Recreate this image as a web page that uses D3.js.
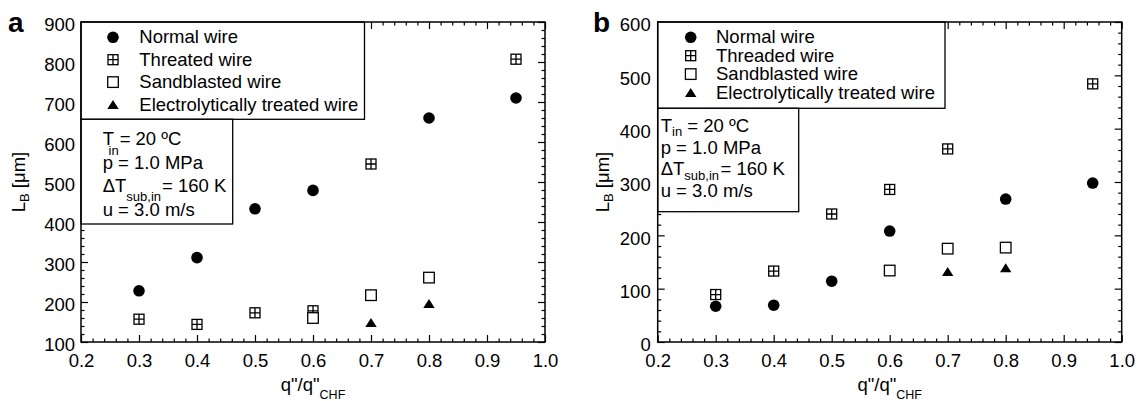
<!DOCTYPE html>
<html><head><meta charset="utf-8">
<script src="https://cdn.jsdelivr.net/npm/d3@7"></script>
<style>
body{margin:0;background:#fff}
svg{display:block}
text{font-family:"Liberation Sans",Arial,Helvetica,sans-serif;fill:#000}
</style>
</head><body>
<svg id="c" width="1144" height="401"></svg>
<script>
// ---------- data ----------
const xTickValues = [0.2, 0.3, 0.4, 0.5, 0.6, 0.7, 0.8, 0.9, 1.0];
const yTickValuesA = [100, 200, 300, 400, 500, 600, 700, 800, 900];
const yTickValuesB = [0, 100, 200, 300, 400, 500, 600];
const legendLabelsA = ["Normal wire", "Threated wire", "Sandblasted wire", "Electrolytically treated wire"];
const legendLabelsB = ["Normal wire", "Threaded wire", "Sandblasted wire", "Electrolytically treated wire"];

// panel a
const normalAx = [0.3, 0.4, 0.5, 0.6, 0.8, 0.95];
const normalAy = [228, 311, 433, 479, 660, 710];
const threadedAx = [0.3, 0.4, 0.5, 0.6, 0.7, 0.95];
const threadedAy = [157, 144, 173, 178, 545, 807];
const sandAx = [0.6, 0.7, 0.8];
const sandAy = [160, 217, 261];
const electroAx = [0.7, 0.8];
const electroAy = [149, 196];

// panel b
const normalBx = [0.3, 0.4, 0.5, 0.6, 0.8, 0.95];
const normalBy = [67, 69, 114, 208, 268, 298];
const threadedBx = [0.3, 0.4, 0.5, 0.6, 0.7, 0.95];
const threadedBy = [89, 133, 240, 286, 362, 484];
const sandBx = [0.6, 0.7, 0.8];
const sandBy = [134, 175, 177];
const electroBx = [0.7, 0.8];
const electroBy = [132, 139];

const markerTypes = ["circle", "threaded", "square", "triangle"];

// ---------- drawing ----------
const svg = d3.select("#c");
const FS = 18.5;

function marker(g, type, cx, cy) {
  if (type === "circle") {
    g.append("circle").attr("cx", cx).attr("cy", cy).attr("r", 5.8).attr("fill", "#000");
  } else if (type === "threaded") {
    const s = 5;
    g.append("rect").attr("x", cx - s).attr("y", cy - s).attr("width", 2 * s).attr("height", 2 * s)
      .attr("fill", "#fff").attr("stroke", "#000").attr("stroke-width", 1.3);
    g.append("path").attr("d", `M${cx - s},${cy}H${cx + s}M${cx},${cy - s}V${cy + s}`)
      .attr("stroke", "#000").attr("stroke-width", 1.3);
  } else if (type === "square") {
    const s = 5.3;
    g.append("rect").attr("x", cx - s).attr("y", cy - s).attr("width", 2 * s).attr("height", 2 * s)
      .attr("fill", "#fff").attr("stroke", "#000").attr("stroke-width", 1.3);
  } else {
    const w = 5.7, h = 4.5;
    g.append("path").attr("d", `M${cx - w},${cy + h}L${cx + w},${cy + h}L${cx},${cy - h}Z`).attr("fill", "#000");
  }
}

function minors(lo, hi, step, majors) {
  const out = [];
  const n = Math.round((hi - lo) / step);
  for (let i = 0; i <= n; i++) {
    const v = +(lo + i * step).toFixed(4);
    if (!majors.some(m => Math.abs(m - v) < 1e-6)) out.push(v);
  }
  return out;
}

function panel(cfg) {
  const g = svg.append("g");
  const x = d3.scaleLinear().domain([0.2, 1.0]).range([cfg.left, cfg.right]);
  const y = d3.scaleLinear().domain(cfg.yDomain).range([cfg.bottom, cfg.top]);
  const xMin = minors(0.2, 1.0, 0.02, xTickValues);
  const yMin = minors(cfg.yDomain[0], cfg.yDomain[1], 20, cfg.yTicks);
  const MJ = 7, MN = 3.5;

  function styleAxis(sel) {
    sel.select(".domain").remove();
    sel.attr("font-size", null).attr("font-family", null);
    sel.selectAll("line").attr("stroke", "#000").attr("stroke-width", 1.2);
    sel.selectAll("text").style("font-size", FS + "px");
  }
  // bottom
  g.append("g").attr("transform", `translate(0,${cfg.bottom})`)
    .call(d3.axisBottom(x).tickValues(xTickValues).tickSize(-MJ).tickPadding(12).tickFormat(d3.format(".1f")))
    .call(styleAxis);
  g.append("g").attr("transform", `translate(0,${cfg.bottom})`)
    .call(d3.axisBottom(x).tickValues(xMin).tickSize(-MN).tickFormat("")).call(styleAxis);
  // top
  g.append("g").attr("transform", `translate(0,${cfg.top})`)
    .call(d3.axisTop(x).tickValues(xTickValues).tickSize(-MJ).tickFormat("")).call(styleAxis);
  g.append("g").attr("transform", `translate(0,${cfg.top})`)
    .call(d3.axisTop(x).tickValues(xMin).tickSize(-MN).tickFormat("")).call(styleAxis);
  // left
  const la = g.append("g").attr("transform", `translate(${cfg.left},0)`)
    .call(d3.axisLeft(y).tickValues(cfg.yTicks).tickSize(-MJ).tickPadding(cfg.yPad).tickFormat(d3.format("d")))
    .call(styleAxis);
  la.selectAll("text").attr("dy", cfg.yDy);
  g.append("g").attr("transform", `translate(${cfg.left},0)`)
    .call(d3.axisLeft(y).tickValues(yMin).tickSize(-MN).tickFormat("")).call(styleAxis);
  // right
  g.append("g").attr("transform", `translate(${cfg.right},0)`)
    .call(d3.axisRight(y).tickValues(cfg.yTicks).tickSize(-MJ).tickFormat("")).call(styleAxis);
  g.append("g").attr("transform", `translate(${cfg.right},0)`)
    .call(d3.axisRight(y).tickValues(yMin).tickSize(-MN).tickFormat("")).call(styleAxis);

  // points
  const pts = g.append("g");
  cfg.series.forEach((s, i) => {
    s.xs.forEach((xv, j) => marker(pts, markerTypes[i], x(xv), y(s.ys[j])));
  });

  // legend box
  const L = cfg.legend;
  g.append("rect").attr("x", cfg.left).attr("y", cfg.top).attr("width", L.right - cfg.left).attr("height", L.bottom - cfg.top)
    .attr("fill", "#fff").attr("stroke", "#000").attr("stroke-width", 1.3);
  cfg.legendLabels.forEach((lab, i) => {
    const by = L.base0 + i * L.step;
    marker(g, markerTypes[i], L.mx, by - 6);
    g.append("text").attr("x", L.tx).attr("y", by).style("font-size", FS + "px").text(lab);
  });

  // condition box
  const C = cfg.cond;
  g.append("rect").attr("x", cfg.left).attr("y", L.bottom).attr("width", C.right - cfg.left).attr("height", C.bottom - L.bottom)
    .attr("fill", "#fff").attr("stroke", "#000").attr("stroke-width", 1.3);
  C.draw(g);

  // frame
  g.append("rect").attr("x", cfg.left).attr("y", cfg.top).attr("width", cfg.right - cfg.left).attr("height", cfg.bottom - cfg.top)
    .attr("fill", "none").attr("stroke", "#000").attr("stroke-width", 1.5);

  // axis titles
  const xt = g.append("text").attr("x", (cfg.left + cfg.right) / 2).attr("y", 391).attr("text-anchor", "middle")
    .style("font-size", FS + "px");
  xt.append("tspan").text("q\"/q\"");
  xt.append("tspan").attr("dy", 8).style("font-size", "12.5px").text("CHF");

  const yt = g.append("text").attr("transform", `translate(${cfg.yTitleX},${(cfg.top + cfg.bottom) / 2}) rotate(-90)`)
    .attr("text-anchor", "middle").style("font-size", FS + "px");
  yt.append("tspan").text("L");
  yt.append("tspan").attr("dy", 4).style("font-size", "13px").text("B");
  yt.append("tspan").attr("dy", -4).text(" [μm]");

  // panel label
  g.append("text").attr("x", cfg.labelX).attr("y", 32).style("font-size", "28px").style("font-weight", "bold").text(cfg.label);
}

function line(g, x, y, parts) {
  const t = g.append("text").attr("x", x).attr("y", y).style("font-size", FS + "px");
  parts.forEach(p => {
    const s = t.append("tspan").text(p.t);
    if (p.dx !== undefined) s.attr("dx", p.dx);
    if (p.dy !== undefined) s.attr("dy", p.dy);
    if (p.sub) s.style("font-size", "13px");
  });
}

panel({
  label: "a", labelX: 8,
  left: 81, right: 545, top: 22, bottom: 342,
  yDomain: [100, 900], yTicks: yTickValuesA, yPad: 6, yDy: "0.45em", yTitleX: 25,
  legendLabels: legendLabelsA,
  series: [
    { xs: normalAx, ys: normalAy },
    { xs: threadedAx, ys: threadedAy },
    { xs: sandAx, ys: sandAy },
    { xs: electroAx, ys: electroAy }
  ],
  legend: { right: 364.5, bottom: 119.3, mx: 113, tx: 139.3, base0: 43.3, step: 22.4 },
  cond: {
    right: 232.7, bottom: 224,
    draw: g => {
      line(g, 102.7, 145, [{ t: "T" }, { t: "in", sub: true, dx: -5.5, dy: 10 }, { t: "= 20 ºC", dx: 1, dy: -10 }]);
      line(g, 102.7, 168.5, [{ t: "p = 1.0 MPa" }]);
      line(g, 102.7, 192, [{ t: "ΔT" }, { t: "sub,in", sub: true, dy: 9 }, { t: "= 160 K", dx: 1, dy: -9 }]);
      line(g, 102.7, 215.5, [{ t: "u = 3.0 m/s" }]);
    }
  }
});

panel({
  label: "b", labelX: 593,
  left: 657.7, right: 1121.7, top: 22, bottom: 342,
  yDomain: [0, 600], yTicks: yTickValuesB, yPad: 7, yDy: "0.48em", yTitleX: 609,
  legendLabels: legendLabelsB,
  series: [
    { xs: normalBx, ys: normalBy },
    { xs: threadedBx, ys: threadedBy },
    { xs: sandBx, ys: sandBy },
    { xs: electroBx, ys: electroBy }
  ],
  legend: { right: 945, bottom: 108.3, mx: 690.7, tx: 716, base0: 43.3, step: 18.4 },
  cond: {
    right: 798.7, bottom: 211.7,
    draw: g => {
      line(g, 660.7, 131.7, [{ t: "T" }, { t: "in", sub: true, dy: 4 }, { t: " = 20 ºC", dy: -4 }]);
      line(g, 660.7, 153.5, [{ t: "p = 1.0 MPa" }]);
      line(g, 660.7, 175, [{ t: "ΔT" }, { t: "sub,in", sub: true, dy: 4.5 }, { t: "= 160 K", dx: 1.5, dy: -4.5 }]);
      line(g, 660.7, 196.7, [{ t: "u = 3.0 m/s" }]);
    }
  }
});
</script>
</body></html>
